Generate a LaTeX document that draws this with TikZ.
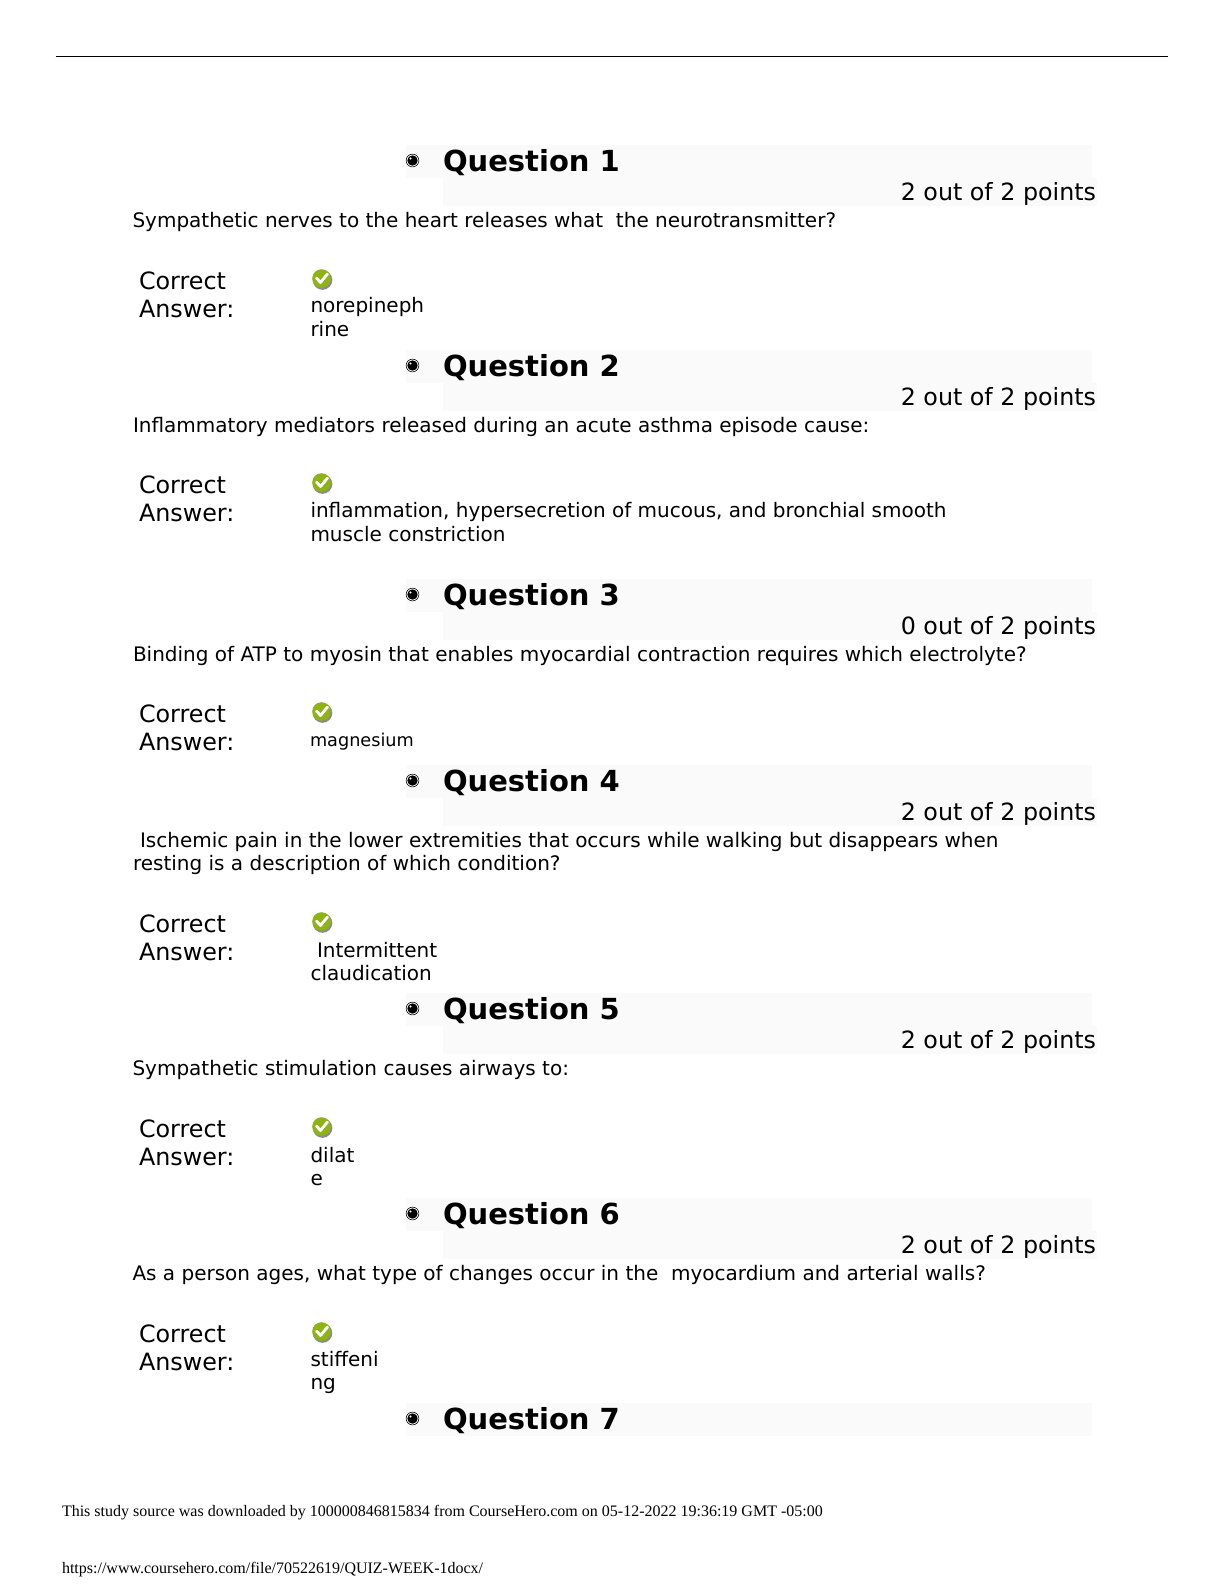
\documentclass[tikz,border=0pt]{standalone}
\usepackage{fontspec}
\setmainfont{DejaVu Sans}
\newfontfamily\footfont{Liberation Serif}
\definecolor{bandgray}{HTML}{FAFAFA}
\definecolor{checkgreen}{HTML}{8DB314}
\definecolor{shadowgray}{HTML}{8A8A8A}
\tikzset{
 x=0.6pt,y=-0.6pt,
 txt/.style={anchor=base west,inner sep=0pt,outer sep=0pt},
 qhead/.style={txt,font=\fontsize{17.4}{20}\bfseries},
 pts/.style={txt,anchor=base east,font=\fontsize{14.25}{16}\selectfont},
 body/.style={txt,font=\fontsize{12}{14}\selectfont},
 lab/.style={txt,font=\fontsize{14.3}{16}\selectfont},
 foot/.style={txt,font=\footfont\fontsize{9.6}{12}\selectfont},
}
% #1 baseline of the heading, #2 number
\newcommand{\qband}[2]{%
 \fill[bandgray] (406,#1-27.5) rectangle (1092,#1+6);
 \node[qhead] (qh#2) at (443,#1-1) {Question #2};
 \fill[black] (412.5,#1-11.5) circle (5.2);
 \draw[black,line width=0.35pt] (412.5,#1-11.5) circle (6.4);
 \fill[white] (410.5,#1-13.5) circle (1.1);
}
\newcommand{\qpts}[3]{%
 \fill[bandgray] (443,#1+6) rectangle (1097,#1+34);
 \node[pts] (pt#2) at (1096,#1+28) {#3};
}
% #1 baseline of "Correct", #2 number
\newcommand{\qcorrect}[2]{%
 \node[lab] (ca#2) at (139,#1) {Correct};
 \node[lab] (cb#2) at (139,#1+28) {Answer:};
 \fill[shadowgray] (322.5,#1-9) circle (9.8);
 \fill[checkgreen] (321.5,#1-10.5) circle (9.3);
 \draw[white,line width=1.7pt,line cap=round,line join=round] (316.5,#1-11) -- (320.5,#1-6.5) -- (327.5,#1-15);
}
\begin{document}
\begin{tikzpicture}
\useasboundingbox (0,0) rectangle (1224,1584);
\fill[white] (0,0) rectangle (1224,1584);
\draw[black,line width=0.6pt] (55.5,56) -- (1168,56);

\qband{172}{1}\qpts{172}{1}{2 out of 2 points}
\node[body] (t1) at (132.5,227) {Sympathetic nerves to the heart releases what\ \ the neurotransmitter?};
\qcorrect{289}{1}
\node[body] (a1a) at (310.5,312) {norepineph};
\node[body] (a1b) at (310.5,336) {rine};

\qband{377}{2}\qpts{377}{2}{2 out of 2 points}
\node[body] (t2) at (133,432) {Inflammatory mediators released during an acute asthma episode cause:};
\qcorrect{493}{2}
\node[body] (a2a) at (310.5,517) {inflammation, hypersecretion of mucous, and bronchial smooth};
\node[body] (a2b) at (310.5,541) {muscle constriction};

\qband{606}{3}\qpts{606}{3}{0 out of 2 points}
\node[body] (t3) at (133,661) {Binding of ATP to myosin that enables myocardial contraction requires which electrolyte?};
\qcorrect{722}{3}
\node[txt,font=\fontsize{10.6}{14}\selectfont] (a3a) at (310,746) {magnesium};

\qband{792}{4}\qpts{792}{4}{2 out of 2 points}
\node[body] (t4a) at (140,847) {Ischemic pain in the lower extremities that occurs while walking but disappears when};
\node[body] (t4b) at (133,870) {resting is a description of which condition?};
\qcorrect{932}{4}
\node[body] (a4a) at (317,957) {Intermittent};
\node[body] (a4b) at (310.5,980) {claudication};

\qband{1020}{5}\qpts{1020}{5}{2 out of 2 points}
\node[body] (t5) at (132.5,1075) {Sympathetic stimulation causes airways to:};
\qcorrect{1137}{5}
\node[body] (a5a) at (310.5,1162) {dilat};
\node[body] (a5b) at (310.5,1185) {e};

\qband{1225}{6}\qpts{1225}{6}{2 out of 2 points}
\node[body] (t6) at (132.5,1280) {As a person ages, what type of changes occur in the\ \ myocardium and arterial walls?};
\qcorrect{1342}{6}
\node[body] (a6a) at (310.5,1366) {stiffeni};
\node[body] (a6b) at (310.5,1389) {ng};

\qband{1430}{7}

\node[foot] (f1) at (62,1516) {This study source was downloaded by 100000846815834 from CourseHero.com on 05-12-2022 19:36:19 GMT -05:00};
\node[foot] (f2) at (62,1573) {https://www.coursehero.com/file/70522619/QUIZ-WEEK-1docx/};
\end{tikzpicture}
\end{document}
